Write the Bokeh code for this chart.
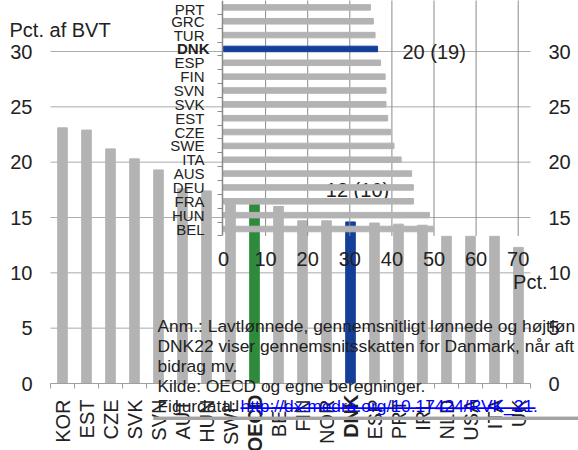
import math
import numpy as np
from bokeh.plotting import figure
from bokeh.models import (Range1d, LinearAxis, FixedTicker, Label, BoxAnnotation,
                          ColumnDataSource)
from bokeh.embed import file_html
from bokeh.resources import INLINE

# ---------------- data ----------------
v_countries = ["KOR", "EST", "CZE", "SVK", "SVN", "AUT", "HUN", "SWE", "OECD", "BEL",
               "FIN", "NOR", "DNK", "ESP", "PRT", "IRL", "NLD", "USA", "ITA", "UK"]
v_values = [23.1, 22.9, 21.2, 20.3, 19.3, 17.6, 17.4, 16.5, 16.2, 16.0,
            14.7, 14.7, 14.6, 14.5, 14.4, 14.3, 13.3, 13.3, 13.3, 12.3]
v_ticks = [0, 5, 10, 15, 20, 25, 30]

h_countries = ["BEL", "HUN", "FRA", "DEU", "AUS", "ITA", "SWE", "CZE", "EST",
               "SVK", "SVN", "FIN", "ESP", "DNK", "TUR", "GRC", "PRT"]
h_values = [49.9, 48.9, 45.1, 45.1, 44.7, 42.2, 40.5, 39.7, 39.0,
            38.6, 38.6, 38.4, 37.3, 36.6, 36.0, 35.6, 34.9]
h_ticks = [0, 10, 20, 30, 40, 50, 60, 70]

bold_names = ["DNK", "OECD"]
y_title = "Pct. af BVT"
h_title = "Pct."
note_dnk = "20 (19)"
note_dnk2 = "12 (10)"
notes = ["Anm.: Lavtlønnede, gennemsnitligt lønnede og højtløn",
         "DNK22 viser gennemsnitsskatten for Danmark, når aft",
         "bidrag mv.",
         "Kilde: OECD og egne beregninger."]
src_prefix = "Figurdata: "
src_link = "http://dx.medra.org/10.17424/RVK_21."

# ---------------- style / geometry ----------------
GRAY = "#b3b3b3"
GREEN = "#2e8b3c"
BLUE = "#143f98"
TXT = "#222222"
AXC = "#8a8a8a"
RULE = "#a3a3a3"
FONT = "Liberation Sans"
NOTE_FS = "17.4px"

W, H = 578, 450             # canvas occupies page x 0..578, y 0..450
PX0, PY0 = 0, 0
FL, FB = 50, 383            # page px of vertical chart: left edge (x=-0.5) and zero line
V_PPU = 332 / 30.0
CAT_W = 24.0
def sx(px):
    return (px - FL) / CAT_W - 0.5
def sy(py):
    return (FB - py) / V_PPU

HX0, H_PPU = 223.0, 4.21    # horizontal chart: page px of value 0 and px per unit
HY0, H_ROW = 228.5, 13.85   # page px of first row centre and row pitch
def hxs(px):
    return (px - HX0) / H_PPU
def hys(py):
    return (HY0 - py) / H_ROW

p = figure(width=W, height=H,
           x_range=Range1d(sx(PX0), sx(PX0 + W)),
           y_range=Range1d(sy(PY0 + H), sy(PY0)),
           output_backend="svg", toolbar_location=None,
           x_axis_type=None, y_axis_type=None,
           min_border=0)
p.outline_line_color = None
p.background_fill_color = "white"
p.border_fill_color = "white"
p.xgrid.visible = False
p.ygrid.visible = False
p.extra_x_ranges = {"hx": Range1d(hxs(PX0), hxs(PX0 + W))}
p.extra_y_ranges = {"hy": Range1d(hys(PY0 + H), hys(PY0))}

nv = len(v_countries)
xc = np.arange(nv)

# ---- vertical chart: gridlines ----
p.segment(x0=-0.5, y0=v_ticks[1:], x1=nv - 0.5, y1=v_ticks[1:],
          line_color="#ababab", line_width=1)

# ---- vertical chart: axes ----
for side, loc in (("left", -0.5), ("right", nv - 0.5)):
    ax = LinearAxis(fixed_location=loc, ticker=FixedTicker(ticks=v_ticks),
                    major_tick_line_color=None, minor_tick_line_color=None,
                    major_tick_out=0, major_tick_in=0,
                    axis_line_color=None, major_label_standoff=18,
                    major_label_text_font_size="20px", major_label_text_font=FONT,
                    major_label_text_color=TXT)
    p.add_layout(ax, side)

normal_i = [i for i, c in enumerate(v_countries) if c not in bold_names]
bold_i = [i for i, c in enumerate(v_countries) if c in bold_names]
cat_ax = LinearAxis(fixed_location=0, bounds=(-0.5, nv - 0.5),
                    ticker=FixedTicker(ticks=normal_i, minor_ticks=list(np.arange(nv + 1) - 0.5)),
                    major_label_overrides={i: v_countries[i] for i in normal_i},
                    major_label_orientation=math.pi / 2,
                    major_tick_line_color=None, major_tick_out=0, major_tick_in=0,
                    minor_tick_out=5, minor_tick_in=0, minor_tick_line_color="#a0a0a0",
                    axis_line_color="#a0a0a0", major_label_standoff=11,
                    major_label_text_font_size="20px", major_label_text_font=FONT,
                    major_label_text_color=TXT)
p.add_layout(cat_ax, "below")
cat_ax_b = LinearAxis(fixed_location=0, ticker=FixedTicker(ticks=bold_i),
                      major_label_overrides={i: v_countries[i] for i in bold_i},
                      major_label_orientation=math.pi / 2,
                      major_tick_line_color=None, major_tick_out=0, major_tick_in=0,
                      minor_tick_line_color=None, axis_line_color=None,
                      major_label_standoff=11, major_label_text_font_size="20px",
                      major_label_text_font=FONT, major_label_text_color=TXT,
                      major_label_text_font_style="bold")
p.add_layout(cat_ax_b, "below")

# ---- vertical bars ----
vcolors = [GREEN if c == "OECD" else BLUE if c == "DNK" else GRAY for c in v_countries]
vsrc = ColumnDataSource(dict(x=xc, top=v_values, color=vcolors))
p.vbar(x="x", top="top", bottom=0, width=0.4, color="color", source=vsrc)

# "12 (10)" (sits behind the horizontal bars)
p.text(x=[v_countries.index("DNK")], y=[sy(189)], text=[note_dnk2],
       x_offset=7, text_align="center", text_baseline="middle",
       text_font_size="20px", text_font={"value": FONT}, text_color=TXT)

# ---- horizontal chart ----
nh = len(h_countries)
ytop = hys(PY0) + 1
p.segment(x0=h_ticks[1:], y0=-0.5, x1=h_ticks[1:], y1=ytop,
          line_color=AXC, line_width=1, x_range_name="hx", y_range_name="hy")
hcolors = [BLUE if c == "DNK" else GRAY for c in h_countries]
hsrc = ColumnDataSource(dict(y=np.arange(nh), right=h_values, color=hcolors))
p.hbar(y="y", right="right", left=0, height=0.4, color="color", source=hsrc,
       x_range_name="hx", y_range_name="hy")

h_normal = [i for i, c in enumerate(h_countries) if c not in bold_names]
h_bold = [i for i, c in enumerate(h_countries) if c in bold_names]
hy_ax = LinearAxis(x_range_name="hx", y_range_name="hy", fixed_location=hxs(222),
                   bounds=(-0.5, ytop),
                   ticker=FixedTicker(ticks=h_normal, minor_ticks=list(np.arange(nh + 2) - 0.5)),
                   major_label_overrides={i: h_countries[i] for i in h_normal},
                   major_tick_line_color=None, major_tick_out=0, major_tick_in=0,
                   minor_tick_out=5, minor_tick_in=0, minor_tick_line_color=AXC,
                   axis_line_color=AXC, axis_line_width=1.5, major_label_standoff=13,
                   major_label_text_font_size="15px", major_label_text_font=FONT,
                   major_label_text_color=TXT)
p.add_layout(hy_ax, "left")
hy_ax_b = LinearAxis(x_range_name="hx", y_range_name="hy", fixed_location=hxs(222),
                     ticker=FixedTicker(ticks=h_bold),
                     major_label_overrides={i: h_countries[i] for i in h_bold},
                     major_tick_line_color=None, major_tick_out=0, major_tick_in=0,
                     minor_tick_line_color=None, axis_line_color=None,
                     major_label_standoff=13, major_label_text_font_size="15px",
                     major_label_text_font=FONT, major_label_text_color=TXT,
                     major_label_text_font_style="bold")
p.add_layout(hy_ax_b, "left")
hx_ax = LinearAxis(x_range_name="hx", y_range_name="hy", fixed_location=-0.5,
                   ticker=FixedTicker(ticks=h_ticks),
                   major_tick_line_color=None, major_tick_out=0, major_tick_in=0,
                   minor_tick_line_color=None, axis_line_color=None,
                   major_label_standoff=16, major_label_text_font_size="20px",
                   major_label_text_font=FONT, major_label_text_color=TXT)
p.add_layout(hx_ax, "below")

p.add_layout(Label(x=hxs(547), y=hys(281), text=h_title, text_align="right",
                   text_baseline="middle", text_font_size="20px", text_font=FONT,
                   text_color=TXT, x_range_name="hx", y_range_name="hy"))
p.add_layout(Label(x=hxs(402), y=hys(51), text=note_dnk, text_align="left",
                   text_baseline="middle", text_font_size="20px", text_font=FONT,
                   text_color=TXT, x_range_name="hx", y_range_name="hy"))

# y title
p.add_layout(Label(x=sx(9), y=sy(29), text=y_title, text_align="left",
                   text_baseline="alphabetic", text_font_size="20px", text_font=FONT,
                   text_color=TXT))

# notes
for k, line in enumerate(notes):
    p.add_layout(Label(x=sx(157), y=sy(325 + 20 * k), text=line, text_align="left",
                       text_baseline="alphabetic", text_font_size=NOTE_FS,
                       text_font=FONT, text_color=TXT))
p.add_layout(Label(x=sx(157), y=sy(405), text=src_prefix, text_align="left",
                   text_baseline="alphabetic", text_font_size=NOTE_FS,
                   text_font=FONT, text_color=TXT))
p.add_layout(Label(x=sx(240), y=sy(405), text=src_link, text_align="left",
                   text_baseline="alphabetic", text_font_size=NOTE_FS,
                   text_font=FONT, text_color="#0000ff"))
p.add_layout(BoxAnnotation(left=sx(240), right=sx(535), top=sy(406.8), bottom=sy(408.6),
                           fill_color="#0000ff", fill_alpha=1, line_color=None,
                           level="overlay"))

# grey rule near the bottom of the page (drawn over the category labels)
p.add_layout(BoxAnnotation(left=sx(153), right=sx(577.5), top=sy(416.2), bottom=sy(419.6),
                           fill_color=RULE, fill_alpha=1, line_color=None,
                           level="overlay"))
p.segment(x0=[sx(153)], y0=[sy(417.9)], x1=[sx(577.5)], y1=[sy(417.9)],
          line_color=RULE, line_width=3.4, level="overlay")

open("out.html", "w").write(file_html(p, INLINE))
